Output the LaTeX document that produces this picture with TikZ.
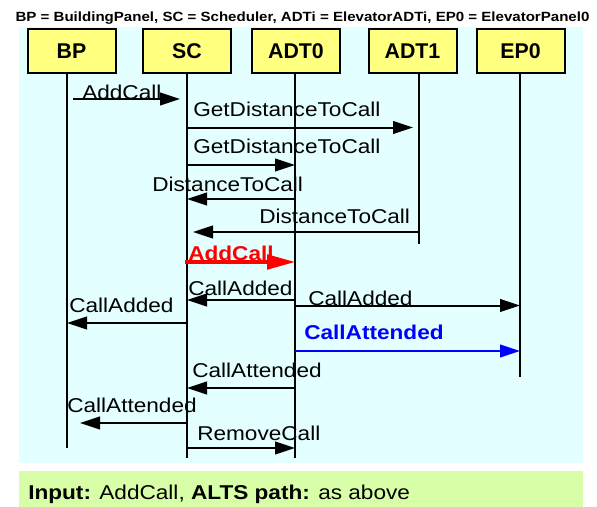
\documentclass[tikz,border=0pt]{standalone}
\usepackage{fontspec}
\setmainfont{Liberation Sans}
\newfontfamily\msgfont{Liberation Sans}[FakeStretch=1.13]
\usetikzlibrary{arrows.meta}
\definecolor{seqbg}{RGB}{228,255,255}
\definecolor{objfill}{RGB}{255,255,128}
\definecolor{notebg}{RGB}{216,255,168}
\tikzset{obj/.style={draw, line width=1.5pt, fill=objfill, minimum width=66pt,
      minimum height=33pt, inner sep=0pt, font=\fontsize{16}{18}\selectfont\bfseries},
  lifeln/.style={line width=1.5pt},
  msg/.style={line width=1.5pt, -{Triangle[length=15pt,width=9.5pt]}},
  lbl/.style={anchor=base west, inner sep=0pt, font=\msgfont\fontsize{15}{17}\selectfont}}

\begin{document}
\begin{tikzpicture}[x=0.75pt, y=-0.75pt]
    \useasboundingbox (0,0) rectangle (597,507);
    \fill[seqbg] (19,27) rectangle (583,463);
    \fill[notebg] (19,471) rectangle (583,507);
    \node[anchor=base, inner sep=0pt, font=\msgfont\fontsize{10}{11}\selectfont\bfseries] (key) at (302.5,21)
      {BP = BuildingPanel, SC = Scheduler, ADTi = ElevatorADTi, EP0 = ElevatorPanel0};
    % objects
    \node[obj] (bp) at (71.5,51) {BP};
    \node[obj] (sc) at (187,51) {SC};
    \node[obj] (adt0) at (296,51) {ADT0};
    \node[obj] (adt1) at (412.5,51) {ADT1};
    \node[obj] (ep0) at (520.5,51) {EP0};
    % lifelines
    \coordinate (bpEnd) at (67,448);
    \coordinate (scEnd) at (187,458);
    \coordinate (adt0End) at (295,458);
    \coordinate (adt1End) at (419,244);
    \coordinate (ep0End) at (520,377);
    \draw[lifeln] (bpEnd |- bp.south) -- (bpEnd);
    \draw[lifeln] (scEnd |- sc.south) -- (scEnd);
    \draw[lifeln] (adt0End |- adt0.south) -- (adt0End);
    \draw[lifeln] (adt1End |- adt1.south) -- (adt1End);
    \draw[lifeln] (ep0End |- ep0.south) -- (ep0End);
    % messages
    \draw[msg, shorten <=4.5pt, shorten >=5.25pt] (bpEnd |- 0,99) -- (scEnd |- 0,99);
    \draw[msg, shorten >=4.5pt] (scEnd |- 0,127.5) -- (adt1End |- 0,127.5);
    \draw[msg] (scEnd |- 0,165) -- (adt0End |- 0,165);
    \draw[msg] (adt0End |- 0,199) -- (scEnd |- 0,199);
    \draw[msg, shorten >=4.5pt] (adt1End |- 0,232) -- (scEnd |- 0,232);
    \draw[red, line width=2.3pt, -{Triangle[length=21pt,width=11pt]}, shorten <=-1.5pt]
      (scEnd |- 0,262) -- (adt0End |- 0,262);
    \draw[msg] (adt0End |- 0,300) -- (scEnd |- 0,300);
    \draw[msg] (adt0End |- 0,305.5) -- (ep0End |- 0,305.5);
    \draw[msg] (scEnd |- 0,323) -- (bpEnd |- 0,323);
    \draw[msg, blue] (adt0End |- 0,351) -- (ep0End |- 0,351);
    \draw[msg] (adt0End |- 0,388) -- (scEnd |- 0,388);
    \draw[msg, shorten >=9.75pt] (scEnd |- 0,423) -- (bpEnd |- 0,423);
    \draw[msg] (scEnd |- 0,448) -- (adt0End |- 0,448);
    % labels
    \node[lbl] (l1) at (82,99) {AddCall};
    \node[lbl] (l2) at (193,116) {GetDistanceToCall};
    \node[lbl] (l3) at (193,153) {GetDistanceToCall};
    \node[lbl] (l4) at (152,191) {DistanceToCall};
    \node[lbl] (l5) at (259,223) {DistanceToCall};
    \node[lbl, red, font=\msgfont\fontsize{15}{17}\selectfont\bfseries] (l6) at (188,260) {AddCall};
    \node[lbl] (l7) at (188,295) {CallAdded};
    \node[lbl] (l8) at (308,305) {CallAdded};
    \node[lbl] (l9) at (69,312) {CallAdded};
    \node[lbl, blue, font=\msgfont\fontsize{15}{17}\selectfont\bfseries] (l10) at (304,339) {CallAttended};
    \node[lbl] (l11) at (192,377) {CallAttended};
    \node[lbl] (l12) at (67,412) {CallAttended};
    \node[lbl] (l13) at (197,440) {RemoveCall};
    % note
    \node[lbl] (note) at (28,499) {\textbf{Input:} AddCall, \textbf{ALTS path:} as above};
\end{tikzpicture}
\end{document}
